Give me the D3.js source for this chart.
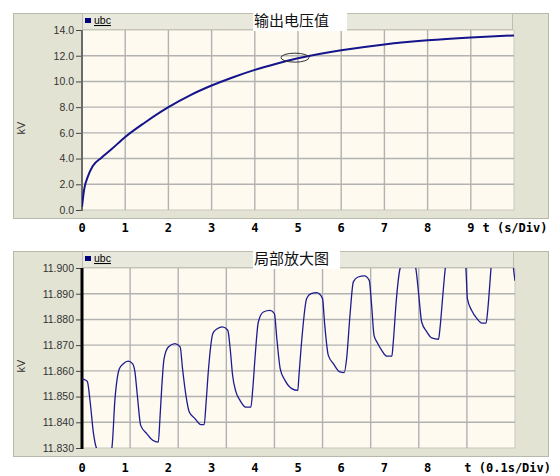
<!DOCTYPE html>
<html>
<head>
<meta charset="utf-8">
<script src="https://cdn.jsdelivr.net/npm/d3@7"></script>
<style>
  body { margin: 0; background: #fff; }
  svg { display: block; }
</style>
</head>
<body>
<svg id="chart" width="560" height="476"></svg>
<script>
// ---- data ----
var xTickLabels = ["0", "1", "2", "3", "4", "5", "6", "7", "8", "9"];

// output voltage, t in s/Div, kV
var topT  = [0, 0.05, 0.14, 0.25, 0.45, 0.68, 1.0, 1.45, 2.0, 2.5, 3.0, 3.5, 4.0, 4.5, 5.0, 6.0, 7.0, 8.0, 9.0, 10.0];
var topKV = [0.25, 1.6, 2.64, 3.42, 4.07, 4.72, 5.68, 6.79, 8.0, 8.92, 9.68, 10.33, 10.9, 11.38, 11.8, 12.42, 12.88, 13.2, 13.42, 13.58];
var topYTicks = [0, 2, 4, 6, 8, 10, 12, 14];
var zoomMark = [4.93, 11.85];   // circled spot on the main curve

// detail view, t in 0.1s/Div, kV
var zoomT = [0, 0.04, 0.11, 0.17, 0.235, 0.305, 0.45, 0.617, 0.686, 0.776, 0.86, 0.96, 1.05, 1.10, 1.15, 1.22,
  1.345, 1.47, 1.586, 1.62, 1.656, 1.705, 1.795, 1.933, 2.04, 2.09, 2.16, 2.23, 2.35, 2.47, 2.54, 2.58,
  2.63, 2.72, 2.81, 2.92, 3.03, 3.08, 3.13, 3.20, 3.285, 3.40, 3.51, 3.55, 3.60, 3.665, 3.77, 3.91,
  4.00, 4.05, 4.12, 4.22, 4.36, 4.485, 4.51, 4.57, 4.67, 4.76, 4.88, 5.00, 5.04, 5.12, 5.225, 5.36,
  5.45, 5.50, 5.57, 5.64, 5.74, 5.87, 5.97, 6.02, 6.07, 6.13, 6.23, 6.335, 6.44, 6.47, 6.53, 6.61,
  6.70, 6.80, 6.90, 6.94, 7.00, 7.06, 7.17, 7.27, 7.41, 7.44, 7.50, 7.55, 7.65, 7.80, 7.93, 7.98,
  8.01, 8.10, 8.21, 8.31, 8.40, 8.43, 8.48, 8.50, 8.60, 8.80, 8.93, 8.97, 9.00];
var zoomKV = [11.8568, 11.8567, 11.8559, 11.8479, 11.8362, 11.8297, 11.8262, 11.8297, 11.8492, 11.8608, 11.8628, 11.8638, 11.8628, 11.8596, 11.8505, 11.8388,
  11.8356, 11.8330, 11.8323, 11.8414, 11.8531, 11.8647, 11.8693, 11.8706, 11.8693, 11.8608, 11.8505, 11.8440, 11.8414, 11.8391, 11.8391, 11.8479,
  11.8608, 11.8745, 11.8764, 11.8771, 11.8758, 11.8686, 11.8583, 11.8518, 11.8485, 11.8459, 11.8459, 11.8531, 11.8660, 11.8790, 11.8829, 11.8835,
  11.8822, 11.8725, 11.8608, 11.8563, 11.8531, 11.8524, 11.8583, 11.8725, 11.8881, 11.8900, 11.8904, 11.8881, 11.8790, 11.8660, 11.8628, 11.8596,
  11.8593, 11.8647, 11.8816, 11.8946, 11.8965, 11.8969, 11.8952, 11.8855, 11.8738, 11.8712, 11.8680, 11.8657, 11.8657, 11.8712, 11.8868, 11.8997,
  11.9030, 11.9040, 11.9020, 11.8997, 11.8894, 11.8790, 11.8751, 11.8728, 11.8723, 11.8764, 11.8894, 11.8997, 11.9080, 11.9090, 11.9060, 11.8997,
  11.8881, 11.8835, 11.8803, 11.8786, 11.8786, 11.8829, 11.8946, 11.8997, 11.9140, 11.9150, 11.9100, 11.8997, 11.8950];
var zoomYTicks = [11.83, 11.84, 11.85, 11.86, 11.87, 11.88, 11.89, 11.90];

var seriesName = "ubc";

// ---- drawing ----
var svg = d3.select("#chart");

// label row under both charts uses the main chart's 0..10 spacing
var labelScale = d3.scaleLinear().domain([0, 10]).range([82, 514]);

function drawChart(cfg) {
    var g = svg.append("g");
    var x = d3.scaleLinear().domain(cfg.xDomain).range([cfg.left, cfg.right]);
    var y = d3.scaleLinear().domain(cfg.yDomain).range([cfg.bottom, cfg.top]);

    // grey panel behind everything
    g.append("rect")
        .attr("x", 13.5).attr("y", cfg.panelTop + 0.5)
        .attr("width", 535).attr("height", cfg.panelBottom - cfg.panelTop)
        .attr("fill", "#e3e3d4")
        .attr("stroke", "#b9b9ab");

    // legend strip
    g.append("rect")
        .attr("x", cfg.left + 0.5).attr("y", cfg.panelTop + 0.5)
        .attr("width", cfg.right - cfg.left - 2).attr("height", cfg.top - cfg.panelTop - 1)
        .attr("fill", "#e8e8dc")
        .attr("stroke", "#bdbdb0");

    // plot area
    g.append("rect")
        .attr("x", cfg.left).attr("y", cfg.top)
        .attr("width", cfg.right - cfg.left).attr("height", cfg.bottom - cfg.top)
        .attr("fill", "#fefaef")
        .attr("stroke", "#c9c9bd");

    // grid
    var grid = g.append("g").attr("stroke", "#b2b2b2").attr("stroke-width", 1.4);
    grid.selectAll(".vx")
        .data(d3.range(cfg.xDomain[0] + 1, cfg.xDomain[1]))
        .join("line")
        .attr("x1", function (d) { return x(d); }).attr("x2", function (d) { return x(d); })
        .attr("y1", cfg.top).attr("y2", cfg.bottom);
    grid.selectAll(".hy")
        .data(cfg.yTicks.slice(1, -1))
        .join("line")
        .attr("x1", cfg.left).attr("x2", cfg.right)
        .attr("y1", function (d) { return y(d); }).attr("y2", function (d) { return y(d); });

    // y axis
    var yAxis = d3.axisLeft(y)
        .tickValues(cfg.yTicks)
        .tickFormat(d3.format(cfg.yFormat))
        .tickSize(6)
        .tickPadding(2);
    var ya = g.append("g")
        .attr("transform", "translate(" + cfg.left + ",0)")
        .call(yAxis);
    ya.select(".domain").remove();
    ya.selectAll(".tick line").attr("stroke", "#444");
    ya.selectAll("text")
        .attr("fill", "#333")
        .style("font-family", "'Liberation Sans', Arial, sans-serif")
        .style("font-size", "10.5px");
    g.append("line")
        .attr("x1", cfg.left).attr("x2", cfg.left)
        .attr("y1", cfg.top).attr("y2", cfg.bottom + 1)
        .attr("stroke", cfg.axisColor)
        .attr("stroke-width", cfg.axisWidth);

    g.append("text")
        .attr("transform", "translate(" + 25 + "," + ((cfg.top + cfg.bottom) / 2 + 8) + ") rotate(-90)")
        .attr("text-anchor", "middle")
        .attr("fill", "#333")
        .style("font-family", "'Liberation Sans', Arial, sans-serif")
        .style("font-size", "11px")
        .text("kV");

    // series
    var clipId = cfg.id + "Clip";
    g.append("clipPath").attr("id", clipId)
        .append("rect")
        .attr("x", cfg.left).attr("y", cfg.top)
        .attr("width", cfg.right - cfg.left).attr("height", cfg.bottom - cfg.top);

    var pts = cfg.t.map(function (t, i) { return [t, cfg.v[i]]; });
    var line = d3.line()
        .x(function (d) { return x(d[0]); })
        .y(function (d) { return y(d[1]); })
        .curve(d3.curveMonotoneX);
    g.append("path")
        .datum(pts)
        .attr("clip-path", "url(#" + clipId + ")")
        .attr("fill", "none")
        .attr("stroke", cfg.lineColor)
        .attr("stroke-width", cfg.lineWidth)
        .attr("d", line);

    // legend entry
    g.append("rect")
        .attr("x", cfg.left + 3).attr("y", cfg.panelTop + 5)
        .attr("width", 6).attr("height", 5)
        .attr("fill", "#00007a");
    g.append("text")
        .attr("x", cfg.left + 12).attr("y", cfg.panelTop + 11)
        .attr("fill", "#000")
        .attr("text-decoration", "underline")
        .style("font-family", "'Liberation Sans', Arial, sans-serif")
        .style("font-size", "10.5px")
        .text(seriesName);

    // title on white patch
    g.append("rect")
        .attr("x", 253).attr("y", cfg.panelTop - 8)
        .attr("width", cfg.titleBox).attr("height", cfg.top - cfg.panelTop + 9)
        .attr("fill", "#fff");
    g.append("text")
        .attr("x", 254).attr("y", cfg.panelTop + 13)
        .attr("fill", "#111")
        .style("font-family", "'Noto Sans CJK SC', sans-serif")
        .style("font-size", "15px")
        .text(cfg.title);

    // bold x labels under the panel
    var lab = g.append("g")
        .style("font-family", "'DejaVu Sans Mono', monospace")
        .style("font-weight", "bold")
        .style("font-size", "12px")
        .attr("fill", "#000");
    lab.selectAll("text.xl")
        .data(cfg.xLabels)
        .join("text")
        .attr("x", function (d) { return labelScale(+d); })
        .attr("y", cfg.labelY)
        .attr("text-anchor", "middle")
        .text(function (d) { return d; });
    lab.append("text")
        .attr("x", labelScale(cfg.unitAt))
        .attr("y", cfg.labelY)
        .text(cfg.unit);

    return { x: x, y: y, g: g };
}

var mainChart = drawChart({
    id: "main", title: "输出电压值",
    panelTop: 13, panelBottom: 218,
    left: 82, right: 514, top: 30, bottom: 210,
    xDomain: [0, 10], yDomain: [0, 14], yTicks: topYTicks, yFormat: ".1f",
    t: topT, v: topKV,
    lineColor: "#14148c", lineWidth: 2,
    axisColor: "#6a6a6a", axisWidth: 2,
    titleBox: 94,
    xLabels: xTickLabels, labelY: 232, unit: "t (s/Div)", unitAt: 9.27
});

// circled spot that the detail view enlarges
mainChart.g.append("ellipse")
    .attr("cx", mainChart.x(zoomMark[0])).attr("cy", mainChart.y(zoomMark[1]))
    .attr("rx", 14).attr("ry", 4.5)
    .attr("fill", "none")
    .attr("stroke", "#333")
    .attr("stroke-width", 1);

drawChart({
    id: "detail", title: "局部放大图",
    panelTop: 251, panelBottom: 456,
    left: 82, right: 515, top: 268, bottom: 448,
    xDomain: [0, 9], yDomain: [11.83, 11.90], yTicks: zoomYTicks, yFormat: ".3f",
    t: zoomT, v: zoomKV,
    lineColor: "#1c1c90", lineWidth: 1.3,
    axisColor: "#000", axisWidth: 3,
    titleBox: 87,
    xLabels: xTickLabels.slice(0, 9), labelY: 472, unit: "t (0.1s/Div)", unitAt: 8.85
});
</script>
</body>
</html>
